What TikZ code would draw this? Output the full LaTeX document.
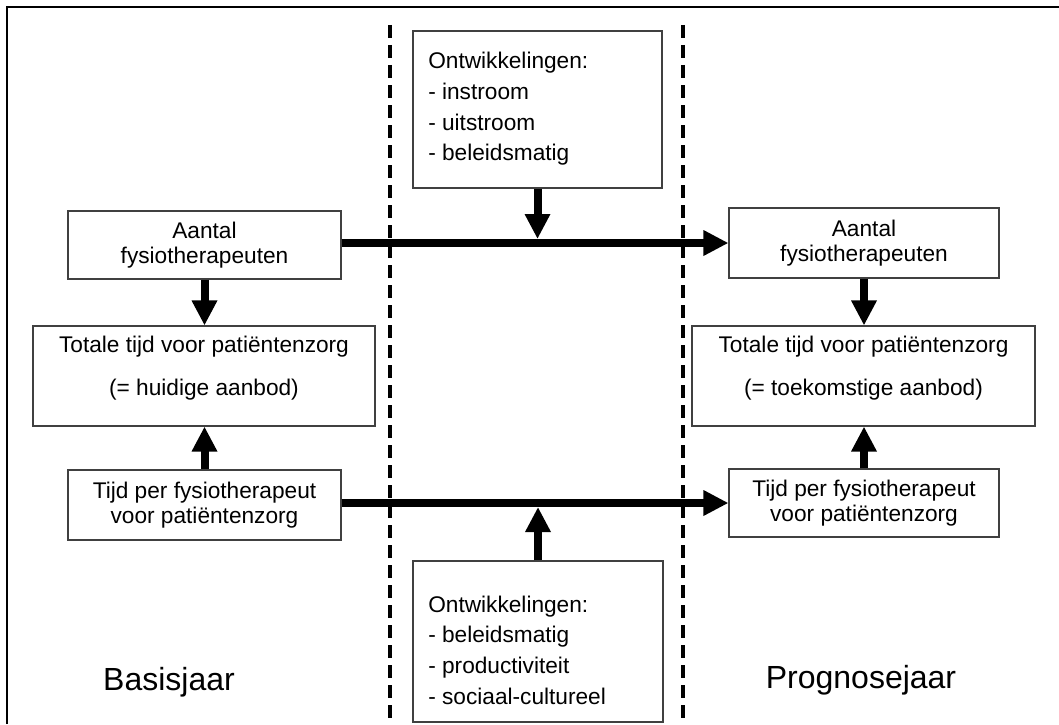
\documentclass[tikz,border=0pt]{standalone}
\usepackage{fontspec}
\setmainfont{Liberation Sans}
\usetikzlibrary{arrows.meta}
\tikzset{
  box/.style={draw=black!75, line width=0.8pt, inner sep=0pt, fill=white},
  txt/.style={font=\fontsize{17}{18.75}\selectfont, align=center, inner sep=0pt},
  wide/.style={font=\fontsize{17}{32.25}\selectfont, align=center, inner sep=0pt},
  list/.style={font=\fontsize{17}{23}\selectfont, align=left, inner sep=0pt, anchor=west},
  big/.style={font=\fontsize{24}{28}\selectfont, inner sep=0pt},
  flow/.style={line width=6pt, -{Triangle[length=18.75pt,width=18pt]}},
  divider/.style={line width=3pt, dash pattern=on 9.75pt off 5.25pt},
  frame/.style={line width=1.6pt},
}
\begin{document}
\begin{tikzpicture}[x=0.75pt,y=-0.75pt]
\useasboundingbox (0,0) rectangle (1059,724);

% frame (top and left)
\coordinate (fbl) at (7,724);
\coordinate (ftl) at (7,7);
\coordinate (ftr) at (1059,7);
\draw[frame] (fbl) -- (ftl) -- (ftr);

% dividers
\coordinate (d1t) at (390,25);
\coordinate (d1b) at (390,724);
\coordinate (d2t) at (683,25);
\coordinate (d2b) at (683,724);
\draw[divider] (d1t) -- (d1b);
\draw[divider] (d2t) -- (d2b);

% boxes
\node[box, txt, minimum width=204.75pt, minimum height=51pt] (lA) at (204.5,245) {Aantal\\fysiotherapeuten};
\node[box, txt, minimum width=202.5pt, minimum height=52.5pt] (rA) at (864,243) {Aantal\\fysiotherapeuten};
\node[box, minimum width=256.5pt, minimum height=75pt] (lTot) at (204,376) {};
\node[box, minimum width=257.25pt, minimum height=75pt] (rTot) at (863.5,376) {};
\node[box, txt, minimum width=204.75pt, minimum height=52.5pt] (lT) at (204.5,505) {Tijd per fysiotherapeut\\voor patiëntenzorg};
\node[box, txt, minimum width=202.5pt, minimum height=51pt] (rT) at (864,503) {Tijd per fysiotherapeut\\voor patiëntenzorg};
\node[box, minimum width=186.75pt, minimum height=117.75pt] (top) at (537.5,109.5) {};
\node[box, minimum width=187.5pt, minimum height=120.75pt] (bot) at (538,641.5) {};

% texts inside boxes
\node[wide] (lTotT) at (204,368.5) {Totale tijd voor patiëntenzorg\\(= huidige aanbod)};
\node[wide] (rTotT) at (863.5,368) {Totale tijd voor patiëntenzorg\\(= toekomstige aanbod)};
\node[list] (topT) at (428,109) {Ontwikkelingen:\\- instroom\\- uitstroom\\- beleidsmatig};
\node[list] (botT) at (428,650) {Ontwikkelingen:\\- beleidsmatig\\- productiviteit\\- sociaal-cultureel};

% year labels
\node[big] (basis) at (169,682) {Basisjaar};
\node[big] (progn) at (861,680) {Prognosejaar};

% connectors
\draw[flow] (lA.east |- rA.west) -- (rA.west);
\draw[flow] (lT.east |- rT.west) -- (rT.west);
\coordinate (j1) at (top.south |- rA.west);
\coordinate (j2) at (bot.north |- rT.west);
\draw[flow, shorten >=3pt] (top.south) -- (j1);
\draw[flow, shorten >=3pt] (bot.north) -- (j2);
\draw[flow] (lA.south) -- (lA.south |- lTot.north);
\draw[flow] (rA.south) -- (rA.south |- rTot.north);
\draw[flow] (lT.north) -- (lT.north |- lTot.south);
\draw[flow] (rT.north) -- (rT.north |- rTot.south);
\end{tikzpicture}
\end{document}
